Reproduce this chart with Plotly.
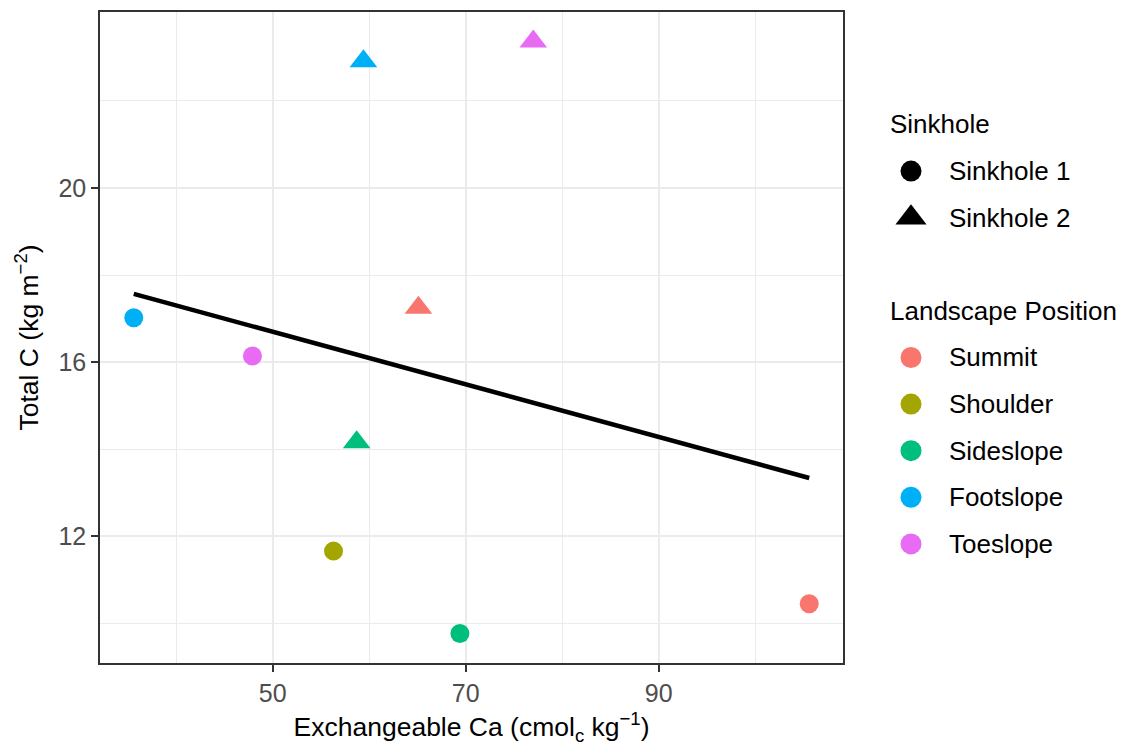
import numpy as np
import plotly.graph_objects as go

# ---- data ----
positions = ["Summit", "Shoulder", "Sideslope", "Footslope", "Toeslope"]
pos_colors = ["#F8766D", "#A3A500", "#00BF7D", "#00B0F6", "#E76BF3"]
sinkholes = ["Sinkhole 1", "Sinkhole 2"]
sink_symbols = ["circle", "triangle-up"]

# Sinkhole 1 (circles), ordered as positions
ca_s1 = [105.6, 56.3, 69.4, 35.6, 47.9]
tc_s1 = [10.45, 11.66, 9.77, 17.02, 16.14]
# Sinkhole 2 (triangles), ordered as positions
ca_s2 = [65.1, None, 58.7, 59.4, 77.0]
tc_s2 = [17.25, None, 14.16, 22.91, 23.36]

x_ticks = [50, 70, 90]
x_minor = [40, 60, 80, 100]
y_ticks = [12, 16, 20]
y_minor = [10, 14, 18, 22]

FONT = "Liberation Sans, Arial, Helvetica, sans-serif"
W, H = 1128, 749
ML, MR, MT, MB = 100, 0, 12, 86
PLOT_W = W - ML - MR
PANEL_RIGHT_PX = 843

fig = go.Figure()

sizes = {"circle": 19, "triangle-up": 24}
for s_name, sym, xs, ys in [(sinkholes[0], sink_symbols[0], ca_s1, tc_s1),
                            (sinkholes[1], sink_symbols[1], ca_s2, tc_s2)]:
    for p, c, xv, yv in zip(positions, pos_colors, xs, ys):
        if xv is None:
            continue
        fig.add_trace(go.Scatter(x=[xv], y=[yv], mode="markers",
                                 marker=dict(symbol=sym, color=c, size=sizes[sym], opacity=1),
                                 name=f"{p} - {s_name}", showlegend=False))

# linear fit over all points
all_x = np.array([v for v in ca_s1 + ca_s2 if v is not None], dtype=float)
all_y = np.array([v for v in tc_s1 + tc_s2 if v is not None], dtype=float)
slope, icpt = np.polyfit(all_x, all_y, 1)
fx = np.array([all_x.min(), all_x.max()])
fig.add_trace(go.Scatter(x=fx, y=slope * fx + icpt, mode="lines",
                         line=dict(color="black", width=4.5), showlegend=False,
                         hoverinfo="skip"))

# expanded ranges like ggplot (5%)
def expand(lo, hi, f=0.05):
    d = (hi - lo) * f
    return [lo - d, hi + d]

xr = expand(all_x.min(), all_x.max())
yr = expand(all_y.min(), all_y.max())

axis_common = dict(showline=True, linecolor="#333333", linewidth=1.6, mirror=True,
                   ticks="outside", ticklen=7, tickwidth=1.6, tickcolor="#333333",
                   gridcolor="#EBEBEB", gridwidth=2, zeroline=False,
                   tickfont=dict(family=FONT, size=25, color="#4D4D4D"))

fig.update_layout(
    width=W, height=H,
    margin=dict(l=ML, r=MR, t=MT, b=MB),
    paper_bgcolor="white", plot_bgcolor="white",
    font=dict(family=FONT, size=26, color="black"),
    xaxis=dict(domain=[0, (PANEL_RIGHT_PX - ML) / PLOT_W], range=xr,
               tickvals=x_ticks,
               minor=dict(tickvals=x_minor, showgrid=True, gridcolor="#EBEBEB", gridwidth=1.2, ticks=""),
               title=dict(text="Exchangeable Ca (cmol<sub>c</sub> kg<sup>\u22121</sup>)",
                          font=dict(family=FONT, size=26.5, color="black"), standoff=12),
               **axis_common),
    yaxis=dict(range=yr, tickvals=y_ticks,
               minor=dict(tickvals=y_minor, showgrid=True, gridcolor="#EBEBEB", gridwidth=1.2, ticks=""),
               title=dict(text="Total C (kg m<sup>\u22122</sup>)",
                          font=dict(family=FONT, size=26.5, color="black"), standoff=12),
               **axis_common),
    showlegend=False,
)

# ---- manual legend drawn on a hidden helper axis ----
LEG_LEFT = 880
fig.update_layout(
    xaxis2=dict(domain=[(LEG_LEFT - ML) / PLOT_W, 1], range=[LEG_LEFT, W], visible=False,
                anchor="y2", fixedrange=True),
    yaxis2=dict(domain=[0, 1], range=[11.556, -2.414], visible=False, anchor="x2",
                fixedrange=True),
)
KEY_X, TEXT_X, TITLE_X = 911, 947, 888

rows_sink = [1, 2]
rows_pos = [5, 6, 7, 8, 9]
for sym, r, sz in zip(sink_symbols, rows_sink, [21, 27]):
    fig.add_trace(go.Scatter(x=[KEY_X], y=[r], xaxis="x2", yaxis="y2",
                             mode="markers",
                             marker=dict(symbol=sym, color="black", size=sz, opacity=1,
                                         line=dict(width=0)),
                             showlegend=False, hoverinfo="skip"))
fig.add_trace(go.Scatter(x=[KEY_X] * len(positions), y=rows_pos, xaxis="x2", yaxis="y2",
                         mode="markers",
                         marker=dict(symbol="circle", color=pos_colors, size=21, opacity=1),
                         showlegend=False, hoverinfo="skip"))

ann = [dict(x=TITLE_X, y=0, text="Sinkhole"), dict(x=TITLE_X, y=4, text="Landscape Position")]
ann += [dict(x=TEXT_X, y=r, text=t) for r, t in zip(rows_sink, sinkholes)]
ann += [dict(x=TEXT_X, y=r, text=t) for r, t in zip(rows_pos, positions)]
for a in ann:
    fig.add_annotation(xref="x2", yref="y2", xanchor="left", yanchor="middle",
                       showarrow=False, font=dict(family=FONT, size=26, color="black"), **a)

fig.write_html("out.html")
